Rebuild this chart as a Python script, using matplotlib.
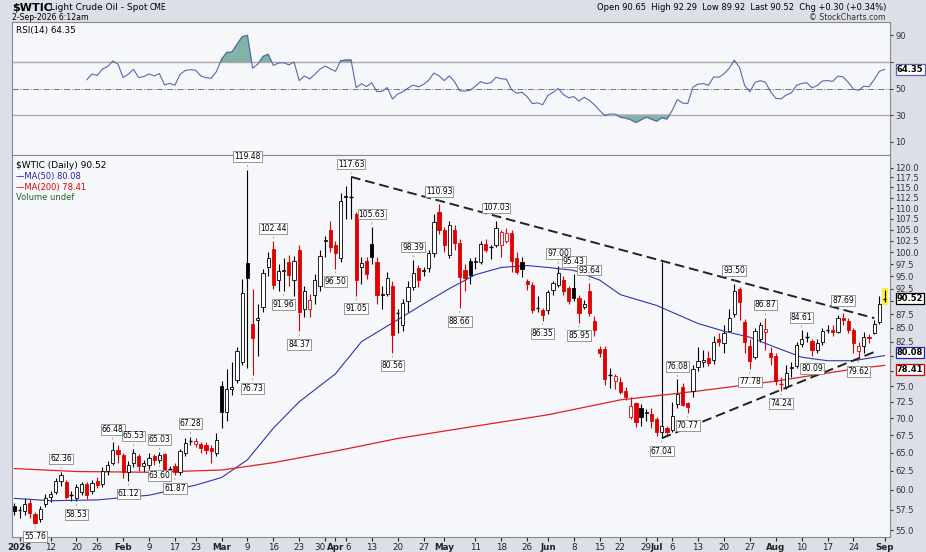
import numpy as np
import pandas as pd
import matplotlib
matplotlib.use("Agg")
import matplotlib.pyplot as plt
from matplotlib.ticker import FixedLocator, NullLocator

# ---------------- data ----------------
holidays = ["2026-01-01", "2026-01-19", "2026-02-16", "2026-04-03", "2026-05-25", "2026-06-19"]
dates = [pd.Timestamp("2025-12-31")] + [d for d in pd.bdate_range("2026-01-02", "2026-09-01")
                                         if d.strftime("%Y-%m-%d") not in holidays]

opens = [57.9, 57.3, 57.3, 58.3, 56.9, 56.3, 58.2, 59.1, 59.7, 61.1, 61.0, 59.2, 59.0, 59.7, 60.7, 59.8, 61.1, 60.7, 62.5, 63.6, 65.3,
         64.7, 62.3, 63.6, 64.5, 63.1, 63.3, 64.5, 64.0, 64.8, 62.6, 63.2, 62.4, 64.9, 66.6, 66.2, 66.2, 66.0, 65.6, 65.0,
         75.0, 71.0, 74.6, 76.0, 79.0, 97.8, 85.8, 86.4, 89.0, 96.8, 100.7, 94.3, 96.1, 98.0, 94.2, 100.5, 88.5, 88.5, 91.2, 93.0, 102.4, 104.9,
         101.5, 98.8, 113.0, 112.6, 108.6, 96.8, 98.1, 101.8, 98.0, 91.3, 91.5, 93.0, 87.8, 85.5, 90.0, 92.9, 96.6, 96.0, 96.6, 99.8, 109.1,
         104.9, 99.4, 104.9, 102.0,
         96.3, 98.2, 98.0, 98.0, 101.8, 101.0, 101.7, 101.6, 102.5, 104.3, 98.8, 98.0, 94.0, 93.3, 88.9, 88.3,
         88.3, 92.3, 93.3, 94.2, 92.7, 92.7, 90.6, 88.9, 92.0, 86.2, 81.2, 81.3, 76.8, 75.9, 75.7, 74.2, 70.1, 72.3, 71.5, 70.7, 70.6,
         69.8, 67.9,
         68.5, 68.3, 72.2, 74.8, 72.3, 74.2, 78.2, 79.0, 79.7, 79.3, 83.0, 82.2, 84.4, 87.5, 92.4, 86.0, 81.7,
         79.8, 83.0, 84.3, 80.5, 80.0, 75.3, 74.8, 78.0, 78.3, 82.1, 83.3, 82.6, 81.0, 82.4, 84.5, 84.6, 84.3, 86.9, 86.3, 84.7, 80.9,
         81.8, 83.4, 84.0, 86.0, 90.65]
highs = [58.3, 58.0, 59.0, 58.8, 57.2, 58.0, 59.5, 59.8, 61.5, 62.36, 61.3, 59.8, 60.8, 61.0, 61.0, 61.3, 61.7, 63.0, 63.8, 66.48, 66.0,
         65.0, 63.8, 65.53, 64.8, 64.0, 65.0, 64.8, 65.03, 65.0, 63.2, 63.6, 65.5, 67.0, 67.28, 67.0, 66.5, 66.5, 66.0, 67.8,
         75.8, 77.8, 79.0, 81.5, 94.5, 119.48, 92.5, 89.5, 96.5, 100.0, 102.44, 97.5, 98.8, 99.5, 99.2, 101.5, 93.0, 91.5, 95.5, 100.5, 103.5, 107.0,
         102.5, 113.5, 115.3, 117.63, 109.0, 99.0, 99.0, 105.63, 99.0, 93.0, 95.8, 94.0, 88.5, 90.5, 94.0, 98.39, 97.3, 96.8, 100.5, 108.5, 110.93,
         105.5, 107.0, 106.0, 103.0,
         97.5, 98.8, 99.0, 102.5, 103.0, 101.7, 107.03, 105.0, 105.3, 105.0, 100.0, 99.0, 94.5, 93.8, 91.0, 88.7,
         92.3, 94.0, 97.0, 95.0, 93.0, 95.43, 91.2, 90.2, 93.64, 87.2, 81.7, 81.8, 78.0, 77.0, 76.5, 74.8, 73.2, 72.5, 72.2, 71.4, 71.5,
         70.2, 98.0,
         68.8, 72.5, 76.08, 75.5, 72.5, 78.4, 81.5, 81.0, 80.8, 83.5, 84.0, 85.5, 88.5, 93.5, 92.8, 86.6, 83.0,
         85.0, 86.0, 86.87, 81.5, 80.5, 76.5, 78.5, 79.0, 82.5, 84.61, 84.3, 83.0, 83.0, 84.9, 85.5, 85.6, 87.3, 87.69, 86.8, 85.0, 82.5,
         84.3, 83.8, 86.5, 91.0, 92.29]
lows = [56.8, 56.5, 56.8, 56.5, 55.76, 56.0, 57.8, 58.5, 59.5, 60.5, 58.8, 58.6, 58.53, 59.3, 58.8, 59.5, 60.2, 60.3, 62.0, 63.3, 63.5,
        61.5, 61.12, 63.0, 62.5, 62.3, 62.8, 63.3, 63.6, 62.0, 62.0, 61.87, 62.0, 64.5, 66.0, 65.8, 65.0, 64.8, 63.6, 64.5,
        68.5, 69.5, 73.5, 75.5, 78.5, 78.0, 76.73, 80.0, 88.0, 95.0, 92.5, 92.0, 91.96, 93.0, 91.0, 84.37, 87.0, 87.0, 89.5, 92.0, 99.0, 100.0,
        96.5, 98.0, 107.5, 107.5, 91.05, 93.5, 94.5, 97.5, 89.5, 88.5, 91.0, 80.56, 84.0, 84.5, 88.0, 92.3, 92.8, 95.0, 95.8, 99.0, 104.0,
        100.0, 98.8, 100.5, 88.66,
        92.0, 93.5, 96.5, 97.5, 100.0, 98.5, 101.2, 99.0, 102.0, 95.9, 95.5, 94.8, 92.3, 87.8, 87.9, 86.35,
        87.5, 91.3, 92.8, 91.3, 89.5, 90.0, 85.95, 88.5, 87.2, 83.5, 79.8, 75.2, 74.7, 74.5, 73.7, 72.8, 69.8, 68.6, 68.8, 69.5, 68.5,
        67.3, 67.04,
        67.5, 68.0, 71.6, 71.8, 70.77, 73.2, 77.5, 78.2, 78.3, 78.7, 81.8, 80.5, 84.2, 87.0, 86.5, 80.5, 77.78,
        79.5, 82.5, 81.0, 78.5, 75.2, 74.24, 74.5, 76.5, 78.0, 81.5, 82.5, 80.09, 80.5, 82.0, 84.0, 83.5, 84.0, 85.5, 84.0, 80.5, 79.62,
        80.5, 82.3, 83.8, 85.7, 89.92]
closes = [57.3, 57.4, 58.2, 57.1, 55.9, 57.6, 58.9, 59.5, 61.1, 62.0, 59.1, 59.3, 60.4, 60.7, 59.3, 60.9, 60.6, 62.5, 63.3, 65.3, 64.8,
          62.3, 63.3, 64.9, 63.2, 63.5, 64.3, 63.9, 64.6, 62.3, 62.7, 62.3, 65.2, 66.4, 66.7, 66.6, 65.6, 65.3, 65.2, 66.8,
          71.0, 74.6, 74.8, 80.8, 91.6, 94.6, 83.1, 86.9, 95.6, 98.8, 93.2, 96.0, 96.3, 95.3, 98.1, 88.0, 92.1, 90.2, 94.2, 99.3, 102.7, 101.2,
          99.8, 111.6, 112.7, 112.7, 94.2, 97.8, 95.5, 99.0, 91.2, 91.5, 94.6, 83.7, 87.7, 89.7, 92.9, 95.6, 94.2, 96.2, 99.8, 106.8, 104.9,
          101.7, 106.1, 102.0, 94.9,
          94.6, 95.3, 98.2, 101.8, 100.6, 101.1, 105.3, 104.4, 104.2, 98.1, 95.8, 96.4, 93.5, 88.4, 88.8, 87.4,
          91.9, 93.6, 95.7, 92.1, 90.0, 90.6, 87.8, 89.5, 87.7, 84.7, 80.5, 76.2, 76.8, 76.6, 74.0, 73.3, 71.9, 69.4, 70.2, 71.0, 69.5,
          67.9, 68.8,
          68.0, 70.3, 73.8, 72.0, 71.7, 77.8, 79.2, 79.4, 78.8, 82.5, 82.4, 84.0, 86.9, 92.1, 89.8, 82.4, 79.2,
          84.5, 85.5, 84.8, 79.8, 75.8, 75.4, 77.2, 78.2, 82.0, 83.0, 83.4, 81.1, 82.2, 84.4, 84.6, 84.3, 86.8, 86.5, 84.7, 82.2, 81.8,
          83.3, 83.1, 85.8, 89.5, 90.52]

# moving averages
ma50_dates = ["2025-12-31", "2026-01-12", "2026-01-26", "2026-02-09", "2026-02-23", "2026-03-02", "2026-03-09", "2026-03-16",
              "2026-03-23", "2026-04-01", "2026-04-09", "2026-04-20", "2026-04-27", "2026-05-04", "2026-05-11", "2026-05-18",
              "2026-05-26", "2026-06-01", "2026-06-08", "2026-06-15", "2026-06-22", "2026-07-01", "2026-07-13", "2026-07-20",
              "2026-07-27", "2026-08-03", "2026-08-10", "2026-08-17", "2026-08-24", "2026-09-01"]
ma50_vals = [58.9, 58.6, 58.7, 59.3, 60.6, 61.6, 64.0, 68.5, 72.5, 77.0, 82.5, 86.5, 89.5, 92.5, 95.3, 96.8,
             97.2, 96.8, 96.2, 94.2, 91.3, 89.2, 85.8, 84.4, 83.3, 81.5, 79.8, 79.2, 79.2, 80.08]
ma200_dates = ["2025-12-31", "2026-01-20", "2026-02-09", "2026-03-02", "2026-03-16", "2026-04-01", "2026-04-20",
               "2026-05-11", "2026-06-01", "2026-06-22", "2026-07-13", "2026-08-03", "2026-08-24", "2026-09-01"]
ma200_vals = [62.8, 62.4, 62.3, 62.6, 63.6, 65.2, 67.0, 68.8, 70.5, 72.8, 74.2, 75.8, 77.8, 78.41]

trend_upper = [("2026-04-07", 117.63), ("2026-08-28", 86.8)]
trend_lower = [("2026-07-02", 67.04), ("2026-08-28", 80.7)]

label_highs = [62.36, 66.48, 65.53, 65.03, 67.28, 119.48, 102.44, 117.63, 105.63, 98.39, 110.93, 107.03,
               97.00, 95.43, 93.64, 76.08, 93.50, 86.87, 84.61, 87.69]
label_lows = [55.76, 58.53, 61.12, 61.87, 63.60, 76.73, 91.96, 84.37, 96.50, 91.05, 80.56, 88.66, 86.35,
              85.95, 67.04, 70.77, 77.78, 74.24, 80.09, 79.62]

tick_labels = [("2026-01-02", "2026"), ("2026-01-12", "12"), ("2026-01-20", "20"), ("2026-01-26", "26"),
               ("2026-02-02", "Feb"), ("2026-02-09", "9"), ("2026-02-17", "17"), ("2026-02-23", "23"),
               ("2026-03-02", "Mar"), ("2026-03-09", "9"), ("2026-03-16", "16"), ("2026-03-23", "23"),
               ("2026-03-30", "30"), ("2026-04-01", "Apr"), ("2026-04-06", "6"), ("2026-04-13", "13"),
               ("2026-04-20", "20"), ("2026-04-27", "27"), ("2026-05-01", "May"), ("2026-05-11", "11"),
               ("2026-05-18", "18"), ("2026-05-26", "26"), ("2026-06-01", "Jun"), ("2026-06-08", "8"),
               ("2026-06-15", "15"), ("2026-06-22", "22"), ("2026-06-29", "29"), ("2026-07-01", "Jul"),
               ("2026-07-06", "6"), ("2026-07-13", "13"), ("2026-07-20", "20"), ("2026-07-27", "27"),
               ("2026-08-03", "Aug"), ("2026-08-10", "10"), ("2026-08-17", "17"), ("2026-08-24", "24"),
               ("2026-09-01", "Sep")]

# ---------------- helpers ----------------
n = min(len(dates), len(opens), len(highs), len(lows), len(closes))
dates = dates[:n]
idx = {d.strftime("%Y-%m-%d"): i for i, d in enumerate(dates)}
x = np.arange(n)
O, H, L, C = (np.array(a[:n]) for a in (opens, highs, lows, closes))

BG = "#f6f7fb"
FIG = "#dcdfe7"
RED = "#e00000"

fig = plt.figure(figsize=(9.26, 5.52), dpi=100, facecolor=FIG)
axr = fig.add_axes([12/926, 1-155/552, 878/926, 133/552], facecolor=BG)
ax = fig.add_axes([12/926, 1-537/552, 878/926, 382/552], facecolor=BG)
xl = (-0.45, n - 1 + 1.05)

# ---------------- price panel ----------------
ax.set_yscale("log")
ax.set_ylim(54.2, 123.3)
ax.set_xlim(*xl)
ax.add_patch(plt.Rectangle((n - 1 - 0.45, L[-1] - 0.4), 0.9, H[-1] - L[-1] + 0.8, color="#ffee44", zorder=1))

for i in range(n):
    prev = C[i - 1] if i > 0 else C[i]
    col = RED if C[i] < prev else "black"
    ax.vlines(i, L[i], H[i], color=col, lw=0.8, zorder=2)
    lo, hi = min(O[i], C[i]), max(O[i], C[i])
    if hi - lo < 0.15:
        ax.hlines(C[i], i - 0.35, i + 0.35, color=col, lw=1.0, zorder=3)
    else:
        fc = col if C[i] < O[i] else "white"
        ax.bar(i, hi - lo, bottom=lo, width=0.62, facecolor=fc, edgecolor=col, lw=0.6, zorder=3)

mx = [idx[d] for d in ma50_dates]
ax.plot(mx, ma50_vals, color="#3333aa", lw=0.8, zorder=2)
mx2 = [idx[d] for d in ma200_dates]
ax.plot(mx2, ma200_vals, color="#e02020", lw=0.9, zorder=2)

for tl in (trend_upper, trend_lower):
    ax.plot([idx[tl[0][0]], idx[tl[1][0]]], [tl[0][1], tl[1][1]], color="#222222", lw=1.4,
            ls=(0, (5, 2.5)), zorder=4)

box = dict(boxstyle="square,pad=0.12", fc="white", ec="#888888", lw=0.6)
for v in label_highs:
    i = int(np.argmin(np.abs(H - v)))
    ax.annotate(f"{v:.2f}", (i, H[i]), xytext=(0, 6), textcoords="offset points", ha="center",
                va="bottom", fontsize=5.5, bbox=box, zorder=6,
                arrowprops=dict(arrowstyle="-", color="#888888", lw=0.5))
for v in label_lows:
    i = int(np.argmin(np.abs(L - v)))
    ax.annotate(f"{v:.2f}", (i, L[i]), xytext=(0, -6), textcoords="offset points", ha="center",
                va="top", fontsize=5.5, bbox=box, zorder=6,
                arrowprops=dict(arrowstyle="-", color="#888888", lw=0.5))

box_vals = [C[-1], ma50_vals[-1], ma200_vals[-1]]
pt = np.arange(55, 120.01, 2.5)
ax.yaxis.set_major_locator(FixedLocator(pt))
ax.yaxis.set_minor_locator(NullLocator())
ax.set_yticklabels(["" if min(abs(v - b) for b in box_vals) < 1.3 else f"{v:.1f}" for v in pt])
ax.yaxis.tick_right()
ax.tick_params(axis="y", labelsize=6, length=2, pad=2, colors="#333333")
ax.set_xticks([idx[d] for d, _ in tick_labels])
ax.set_xticklabels([t for _, t in tick_labels])
xlabs = ax.get_xticklabels()
for k, lab in enumerate(xlabs):
    t = lab.get_text()
    if not t.isdigit() or t == "2026":
        lab.set_fontweight("bold")
    if t == "Apr":
        xlabs[k - 1].set_horizontalalignment("right")
        xlabs[k + 1].set_horizontalalignment("left")
ax.tick_params(axis="x", labelsize=6.3, length=3, pad=1.5, colors="#222222")
for s in ax.spines.values():
    s.set_color("#888888"); s.set_linewidth(0.8)

def vbox(a, y, text, ec, dy=0):
    a.annotate(text, xy=(1.0, y), xycoords=("axes fraction", "data"), xytext=(5, dy),
               textcoords="offset points", ha="left", va="center", fontsize=6.0, fontweight="bold",
               bbox=dict(boxstyle="square,pad=0.12", fc="white", ec=ec, lw=0.9), zorder=10,
               annotation_clip=False)

vbox(ax, C[-1], f"{C[-1]:.2f}", "black")
vbox(ax, ma50_vals[-1], f"{ma50_vals[-1]:.2f}", "#2222aa", dy=2.5)
vbox(ax, ma200_vals[-1], f"{ma200_vals[-1]:.2f}", RED, dy=-3)

ax.text(0.004, 0.985, f"$WTIC (Daily) {C[-1]:.2f}", transform=ax.transAxes, fontsize=6.5, va="top")
ax.text(0.004, 0.955, f"\u2014MA(50) {ma50_vals[-1]:.2f}", transform=ax.transAxes, fontsize=6.0,
        va="top", color="#2222aa")
ax.text(0.004, 0.928, f"\u2014MA(200) {ma200_vals[-1]:.2f}", transform=ax.transAxes, fontsize=6.0,
        va="top", color=RED)
ax.text(0.004, 0.901, "Volume undef", transform=ax.transAxes, fontsize=6.0, va="top", color="#226622")

# ---------------- RSI panel ----------------
delta = np.diff(C)
gain = np.where(delta > 0, delta, 0.0)
loss = np.where(delta < 0, -delta, 0.0)
rsi = np.full(n, np.nan)
p = 14
ag, al = gain[:p].mean(), loss[:p].mean()
rsi[p] = 100 - 100 / (1 + ag / al)
for k in range(p, len(delta)):
    ag = (ag * (p - 1) + gain[k]) / p
    al = (al * (p - 1) + loss[k]) / p
    rsi[k + 1] = 100 - 100 / (1 + ag / al)

axr.set_xlim(*xl)
axr.set_ylim(0, 100)
axr.axhline(70, color="#aaaaaa", lw=1.0)
axr.axhline(30, color="#aaaaaa", lw=1.0)
axr.axhline(50, color="#777777", lw=0.7, ls="-.")
axr.plot(x, rsi, color="#5a68a8", lw=0.8)
axr.fill_between(x, rsi, 70, where=rsi > 70, interpolate=True, color="#6ea79b", alpha=0.85)
axr.fill_between(x, rsi, 30, where=rsi < 30, interpolate=True, color="#6ea79b", alpha=0.85)
axr.yaxis.tick_right()
rt = [10, 30, 50, 70, 90]
axr.set_yticks(rt)
axr.set_yticklabels(["" if abs(v - rsi[-1]) < 8 else str(v) for v in rt])
axr.tick_params(axis="y", labelsize=6, length=2, pad=2, colors="#333333")
axr.set_xticks([])
for s in axr.spines.values():
    s.set_color("#888888"); s.set_linewidth(0.8)
axr.text(0.004, 0.97, f"RSI(14) {rsi[-1]:.2f}", transform=axr.transAxes, fontsize=6.3, va="top")
vbox(axr, rsi[-1], f"{rsi[-1]:.2f}", "#5a68a8")

# ---------------- header ----------------
fig.text(12/926, 1-8/552, "$WTIC", fontsize=8, fontweight="bold", va="center")
fig.text(50/926, 1-8/552, "Light Crude Oil - Spot", fontsize=6.5, va="center")
fig.text(150/926, 1-8/552, "CME", fontsize=5.5, va="center")
fig.text(12/926, 1-17/552, "2-Sep-2026 6:12am", fontsize=5.6, va="center")
fig.text(886/926, 1-8/552, f"Open {O[-1]:.2f}  High {H[-1]:.2f}  Low {L[-1]:.2f}  Last {C[-1]:.2f}  Chg +0.30 (+0.34%)",
         fontsize=6, ha="right", va="center")
fig.text(886/926, 1-17/552, "\u00a9 StockCharts.com", fontsize=5.6, ha="right", va="center", color="#333333")

fig.savefig("out.png", dpi=100, facecolor=FIG)
